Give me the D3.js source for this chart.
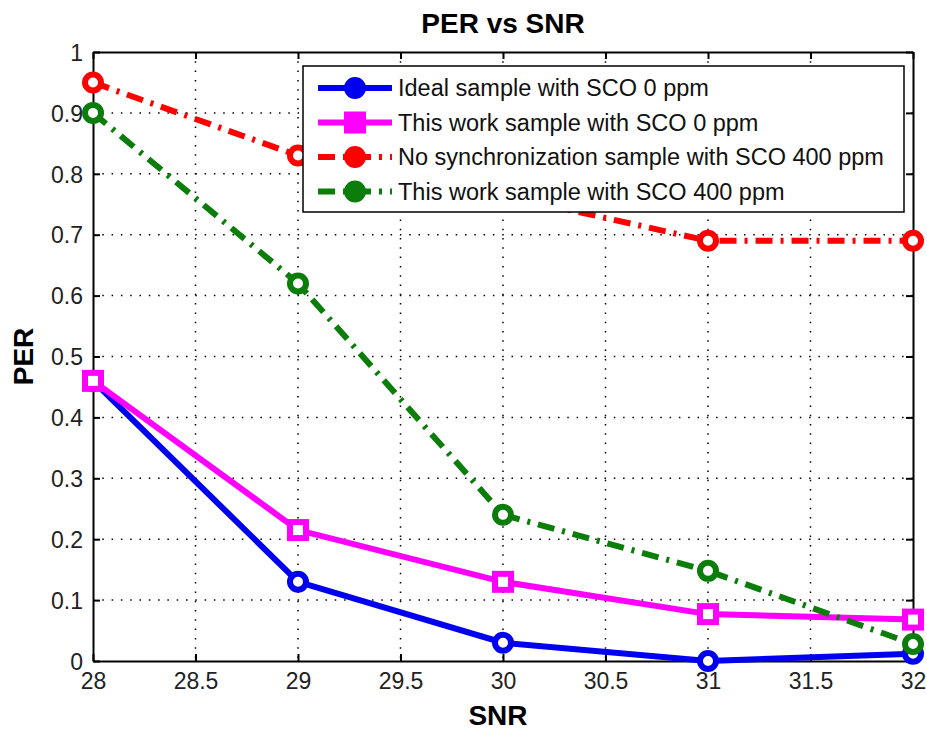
<!DOCTYPE html>
<html>
<head>
<meta charset="utf-8">
<script src="https://cdn.jsdelivr.net/npm/d3@7"></script>
<style>
  body { margin: 0; background: #fff; }
  text { font-family: "Liberation Sans", Arial, sans-serif; }
</style>
</head>
<body>
<div id="container"></div>
<script>
// data
var snr = [28, 29, 30, 31, 32];
var idealSco0 = [0.46, 0.13, 0.03, 0.0, 0.012];
var thisWorkSco0 = [0.46, 0.215, 0.13, 0.077, 0.068];
var noSyncSco400 = [0.95, 0.83, 0.765, 0.69, 0.69];
var thisWorkSco400 = [0.90, 0.62, 0.24, 0.148, 0.028];
var xTicks = [28, 28.5, 29, 29.5, 30, 30.5, 31, 31.5, 32];
var yTicks = [0, 0.1, 0.2, 0.3, 0.4, 0.5, 0.6, 0.7, 0.8, 0.9, 1];

var series = [
  {name: "Ideal sample with SCO 0 ppm", values: idealSco0, color: "#0000f0", dash: null, marker: "circle"},
  {name: "This work sample with SCO 0 ppm", values: thisWorkSco0, color: "#ff00ff", dash: null, marker: "square"},
  {name: "No synchronization sample with SCO 400 ppm", values: noSyncSco400, color: "#ff0000", dash: "17,8,3,8", marker: "circle"},
  {name: "This work sample with SCO 400 ppm", values: thisWorkSco400, color: "#0a7d0a", dash: "17,8,3,8", marker: "circle"}
];

var width = 927, height = 733;
var margin = {top: 52, right: 14, bottom: 72, left: 93};
var plotW = width - margin.left - margin.right;
var plotH = height - margin.top - margin.bottom;

var svg = d3.select("#container").append("svg")
  .attr("width", width)
  .attr("height", height);

var xScale = d3.scaleLinear().domain([28, 32]).range([0, plotW]);
var yScale = d3.scaleLinear().domain([0, 1]).range([plotH, 0]);

var g = svg.append("g")
  .attr("transform", "translate(" + margin.left + "," + margin.top + ")");

// dotted grid
g.selectAll(".vgrid").data(xTicks.slice(1, -1)).enter().append("line")
  .attr("x1", function(d) { return xScale(d); })
  .attr("x2", function(d) { return xScale(d); })
  .attr("y1", 0).attr("y2", plotH)
  .attr("stroke", "#000").attr("stroke-width", 1.5)
  .attr("stroke-dasharray", "1.5,7.8");
g.selectAll(".hgrid").data(yTicks.slice(1, -1)).enter().append("line")
  .attr("y1", function(d) { return yScale(d); })
  .attr("y2", function(d) { return yScale(d); })
  .attr("x1", 0).attr("x2", plotW)
  .attr("stroke", "#000").attr("stroke-width", 1.5)
  .attr("stroke-dasharray", "1.5,7.8");

// axes
var xAxis = d3.axisBottom(xScale).tickValues(xTicks).tickSizeInner(-7).tickSizeOuter(0)
  .tickPadding(12).tickFormat(d3.format("~g"));
var yAxis = d3.axisLeft(yScale).tickValues(yTicks).tickSizeInner(-7).tickSizeOuter(0)
  .tickPadding(10).tickFormat(d3.format("~g"));

var xg = g.append("g").attr("transform", "translate(0," + plotH + ")").call(xAxis);
var yg = g.append("g").call(yAxis);
var xTop = g.append("g").call(d3.axisTop(xScale).tickValues(xTicks).tickSizeInner(-7).tickSizeOuter(0).tickFormat(""));
var yRight = g.append("g").attr("transform", "translate(" + plotW + ",0)")
  .call(d3.axisRight(yScale).tickValues(yTicks).tickSizeInner(-7).tickSizeOuter(0).tickFormat(""));

[xg, yg, xTop, yRight].forEach(function(a) {
  a.select(".domain").attr("stroke", "#000").attr("stroke-width", 2);
  a.selectAll(".tick line").attr("stroke", "#000").attr("stroke-width", 2);
  a.selectAll(".tick text").attr("fill", "#222").style("font-size", "23px")
    .style("font-family", "'Liberation Sans', Arial, sans-serif");
});
yg.selectAll(".tick text").attr("dy", "0.36em");

// lines and markers
var line = d3.line()
  .x(function(d, i) { return xScale(snr[i]); })
  .y(function(d) { return yScale(d); });

function drawMarker(sel, s, cx, cy, legend) {
  if (s.marker == "square") {
    sel.append("rect")
      .attr("x", cx - 8).attr("y", cy - 8).attr("width", 16).attr("height", 16)
      .attr("fill", legend ? s.color : "#fff").attr("stroke", s.color).attr("stroke-width", 6);
  } else {
    sel.append("circle")
      .attr("cx", cx).attr("cy", cy).attr("r", 8)
      .attr("fill", legend ? s.color : "#fff").attr("stroke", s.color).attr("stroke-width", 6);
  }
}

series.forEach(function(s) {
  var sg = g.append("g");
  sg.append("path")
    .datum(s.values)
    .attr("d", line)
    .attr("fill", "none")
    .attr("stroke", s.color)
    .attr("stroke-width", 6)
    .attr("stroke-dasharray", s.dash);
  s.values.forEach(function(v, i) {
    drawMarker(sg, s, xScale(snr[i]), yScale(v), false);
  });
});

// legend
var lg = svg.append("g").attr("transform", "translate(303,66)");
lg.append("rect")
  .attr("width", 601).attr("height", 146)
  .attr("fill", "#fff").attr("stroke", "#000").attr("stroke-width", 1.5);
series.forEach(function(s, i) {
  var y = 22 + i * 34.5;
  lg.append("line")
    .attr("x1", 15).attr("x2", 89).attr("y1", y).attr("y2", y)
    .attr("stroke", s.color).attr("stroke-width", 6)
    .attr("stroke-dasharray", s.dash);
  drawMarker(lg, s, 52, y, true);
  lg.append("text")
    .attr("x", 95).attr("y", y + 8)
    .style("font-size", "23.5px").attr("fill", "#111")
    .text(s.name);
});

// titles
svg.append("text")
  .attr("x", margin.left + plotW / 2).attr("y", 33)
  .attr("text-anchor", "middle")
  .style("font-size", "28px").style("font-weight", "bold")
  .text("PER vs SNR");
svg.append("text")
  .attr("x", margin.left + plotW / 2 - 5).attr("y", 725)
  .attr("text-anchor", "middle")
  .style("font-size", "28px").style("font-weight", "bold")
  .text("SNR");
svg.append("text")
  .attr("transform", "translate(33," + (margin.top + plotH / 2) + ") rotate(-90)")
  .attr("text-anchor", "middle")
  .style("font-size", "28px").style("font-weight", "bold")
  .text("PER");
</script>
</body>
</html>
